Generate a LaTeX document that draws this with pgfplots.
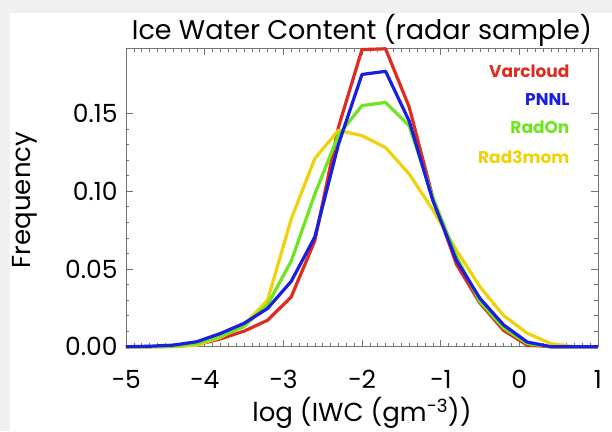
\documentclass[border=0pt]{standalone}
\usepackage{fontspec}
\setmainfont{Poppins}
\usepackage{pgfplots}
\pgfplotsset{compat=1.18}

\definecolor{cvar}{RGB}{222,45,30}
\definecolor{cpnnl}{RGB}{25,30,225}
\definecolor{cradon}{RGB}{110,230,30}
\definecolor{crad}{RGB}{240,210,10}
\definecolor{bgframe}{RGB}{240,240,240}

\begin{document}
\begin{tikzpicture}[x=1pt,y=1pt]
% grey frame of the screenshot
\fill[bgframe] (-126,-84.3) rectangle (486,346.7);
\fill[white] (-116,-84.3) rectangle (486,333.7);
\begin{axis}[
  at={(0,0)}, anchor=south west,
  scale only axis, width=472pt, height=298.7pt,
  xmin=-5, xmax=1, ymin=0, ymax=0.192,
  xtick={-5,-4,-3,-2,-1,0,1},
  xticklabels={−5,−4,−3,−2,−1,0,1},
  ytick={0,0.05,0.10,0.15},
  yticklabels={0.00,0.05,0.10,0.15},
  minor x tick num=9, minor y tick num=4,
  tick align=inside, major tick length=7pt, minor tick length=3.5pt,
  axis line style={black!55, line width=0.6pt},
  every tick/.style={black!55, line width=0.5pt},
  ticklabel style={font=\fontsize{25}{29}\selectfont},
  xticklabel style={anchor=center, yshift=-33pt},
  yticklabel style={anchor=east, xshift=-5pt},
  title={Ice Water Content (radar sample)},
  title style={at={(0.5,1.008)}, anchor=base, font=\fontsize{27}{31}\selectfont},
  xlabel={log (IWC (gm\textsuperscript{−3}))},
  xlabel style={at={(axis description cs:0.5,-0.22)}, anchor=center, font=\fontsize{26}{30}\selectfont},
  ylabel={Frequency},
  ylabel style={at={(axis description cs:-0.214,0.491)}, anchor=center, font=\fontsize{26}{30}\selectfont},
  clip=false,
  every axis plot/.append style={line width=3.2pt, line join=round},
]
\addplot[cvar] coordinates {
  (-5.0,0) (-4.7,0) (-4.4,0.0003) (-4.1,0.0012) (-3.8,0.005) (-3.5,0.010)
  (-3.2,0.017) (-2.9,0.032) (-2.6,0.068) (-2.3,0.141) (-2.0,0.191) (-1.7,0.1915)
  (-1.4,0.154) (-1.1,0.096) (-0.8,0.053) (-0.5,0.028) (-0.2,0.0105) (0.1,0.001)
  (0.4,0) (0.7,0) (1.0,0)
};
\addplot[crad] coordinates {
  (-5.0,0) (-4.7,0) (-4.4,0) (-4.1,0.001) (-3.8,0.006) (-3.5,0.014)
  (-3.2,0.030) (-2.9,0.082) (-2.6,0.121) (-2.3,0.139) (-2.0,0.1357) (-1.7,0.128)
  (-1.4,0.111) (-1.1,0.088) (-0.8,0.062) (-0.5,0.0385) (-0.2,0.020) (0.1,0.0087)
  (0.4,0.002) (0.7,0) (1.0,0)
};
\addplot[cradon] coordinates {
  (-5.0,0) (-4.7,0) (-4.4,0.0003) (-4.1,0.002) (-3.8,0.0065) (-3.5,0.013)
  (-3.2,0.027) (-2.9,0.055) (-2.6,0.098) (-2.3,0.136) (-2.0,0.155) (-1.7,0.157)
  (-1.4,0.142) (-1.1,0.096) (-0.8,0.058) (-0.5,0.029) (-0.2,0.012) (0.1,0.002)
  (0.4,0) (0.7,0) (1.0,0)
};
\addplot[cpnnl] coordinates {
  (-5.0,0) (-4.7,0.0003) (-4.4,0.001) (-4.1,0.0032) (-3.8,0.0085) (-3.5,0.015)
  (-3.2,0.0246) (-2.9,0.042) (-2.6,0.0705) (-2.3,0.130) (-2.0,0.175) (-1.7,0.177)
  (-1.4,0.145) (-1.1,0.094) (-0.8,0.0556) (-0.5,0.031) (-0.2,0.014) (0.1,0.003)
  (0.4,0) (0.7,0) (1.0,0)
};
\begin{scope}[font=\fontsize{17}{20}\selectfont\bfseries]
\node[anchor=east, text=cvar]   at (rel axis cs:0.947,0.921) {Varcloud};
\node[anchor=east, text=cpnnl]  at (rel axis cs:0.947,0.828) {PNNL};
\node[anchor=east, text=cradon] at (rel axis cs:0.947,0.733) {RadOn};
\node[anchor=east, text=crad]   at (rel axis cs:0.947,0.636) {Rad3mom};
\end{scope}
\end{axis}
\end{tikzpicture}
\end{document}
